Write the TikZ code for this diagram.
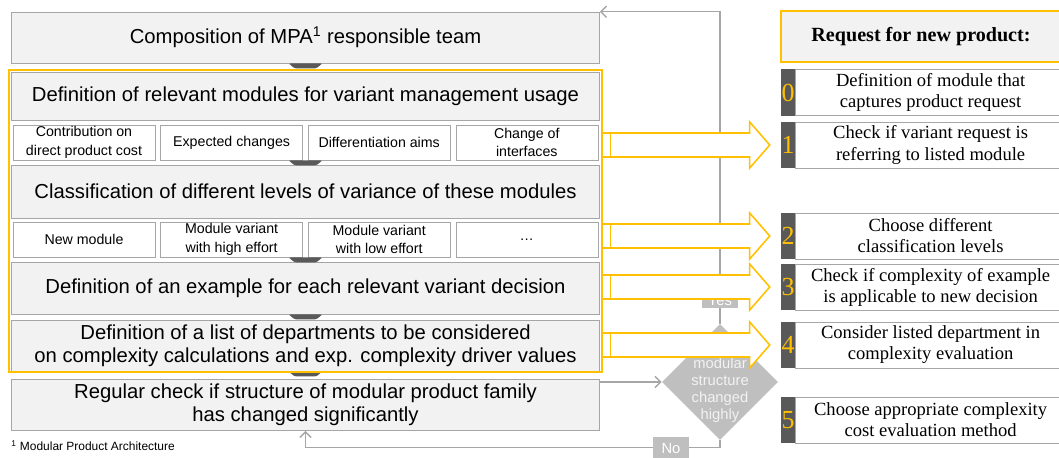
\documentclass[tikz,border=0pt]{standalone}
\usepackage{fontspec}
\setmainfont{Liberation Sans}
\newfontfamily\tnr{Liberation Serif}
\usepackage{tikz}
\usetikzlibrary{positioning,shapes.geometric,arrows.meta}
\definecolor{mpayellow}{HTML}{FFC000}
\definecolor{boxgray}{HTML}{F2F2F2}
\definecolor{linegray}{HTML}{A6A6A6}
\definecolor{loopgray}{HTML}{BFBFBF}
\definecolor{tabgray}{HTML}{595959}

\begin{document}
\begin{tikzpicture}[x=0.025cm, y=-0.025cm,
    big/.style = {draw=linegray, fill=boxgray, minimum width=14.7cm, align=center, font=\fontsize{14.4}{16.3}\selectfont},
    small/.style = {draw=linegray, fill=white, minimum width=3.55cm, minimum height=0.875cm, inner sep=1pt, align=center, font=\fontsize{10.1}{13.2}\selectfont},
    frame/.style = {draw=mpayellow, line width=1.6pt},
    chev/.style = {fill=tabgray, rounded corners=1pt},
    link/.style = {draw=linegray, line width=1pt, -{Straight Barb[length=4pt,width=8pt]}},
    dia/.style = {diamond, fill=loopgray, minimum width=2.9cm, minimum height=2.9cm, inner sep=0pt},
    lbl/.style = {fill=loopgray, text=white, inner sep=0pt, minimum width=0.9cm, font=\fontsize{10.5}{12}\selectfont},
    bigarrow/.style = {draw=mpayellow, fill=white, line width=1.1pt},
    hdr/.style = {draw=mpayellow, line width=1.6pt, fill=boxgray, minimum width=7cm, minimum height=1.275cm, font=\tnr\bfseries\fontsize{14.3}{16}\selectfont},
    tab/.style = {fill=tabgray, text=mpayellow, minimum width=0.35cm, minimum height=1.15cm, inner sep=0pt, font=\tnr\fontsize{18.5}{19}\selectfont},
    item/.style = {draw=linegray, fill=white, minimum width=6.75cm, minimum height=1.15cm, inner sep=1pt, align=center, font=\tnr\fontsize{13.2}{15}\selectfont}]
\useasboundingbox (0,0) rectangle (1059,458);

% left column
    \node[big, minimum height=1.275cm] (team) at (305.5,37.5) {Composition of MPA\textsuperscript{1} responsible team};
    \node[big, minimum height=1.2cm] (mod) at (305.5,96) {Definition of relevant modules for variant management usage};
    \node[small] (c1) at (84,142.5) {Contribution on\\direct product cost};
    \node[small, right=0.125cm of c1] (c2) {Expected changes};
    \node[small, right=0.125cm of c2] (c3) {Differentiation aims};
    \node[small, right=0.125cm of c3] (c4) {Change of\\interfaces};
    \node[big, minimum height=1.325cm] (cls) at (305.5,191.5) {Classification of different levels of variance of these modules};
    \node[small] (d1) at (84,239.5) {New module};
    \node[small, right=0.125cm of d1] (d2) {Module variant\\with high effort};
    \node[small, right=0.125cm of d2] (d3) {Module variant\\with low effort};
    \node[small, right=0.125cm of d3] (d4) {…};
    \node[big, minimum height=1.3cm] (ex) at (305.5,288) {Definition of an example for each relevant variant decision};
    \node[big, minimum height=1.275cm] (dep) at (305.5,345.5) {Definition of a list of departments to be considered\\on complexity calculations and exp. complexity driver values};
    \node[big, minimum height=1.25cm] (chk) at (305.5,405) {Regular check if structure of modular product family\\has changed significantly};
    \node[anchor=west, inner sep=0pt, font=\fontsize{8.5}{10}\selectfont] (fn) at (11,446) {\textsuperscript{1} Modular Product Architecture};

\foreach \p in {(team.south), (team.south |- c1.south), (team.south |- d1.south), (ex.south), (dep.south)}
    \fill[chev] \p ++(-17,0) -- ++(34,0) -- ++(-6,5) -- ++(-22,0) -- cycle;
\draw[frame] ([shift={(-2,-2)}]mod.north west) rectangle ([shift={(2,1)}]dep.south east);

% feedback loop
    \node[dia] (dia) at (720,382) {};
    \node[text=boxgray, align=center, inner sep=0pt, font=\fontsize{10.5}{12}\selectfont] (q) at (720,390) {modular\\structure\\changed\\highly};
\draw[link] (dia.west -| chk.east) -- (dia.west);
\draw[link] (dia.north) |- (team.north east);
\draw[link] (dia.south) -- ++(0,7) -| (chk.south);
    \node[lbl, minimum height=0.375cm] (yes) at (720,300.5) {Yes};
    \node[lbl, minimum height=0.55cm] (no) at (671,448) {No};

% right column
    \node[hdr] (hdr) at (921,36.5) {Request for new product:};
    \node[tab] (n0) at (788,92.5) {0};
    \node[item, right=0pt of n0] (s0) {Definition of module that\\captures product request};
    \node[tab] (n1) at (788,145) {1};
    \node[item, right=0pt of n1] (s1) {Check if variant request is\\referring to listed module};
    \node[tab] (n2) at (788,236) {2};
    \node[item, right=0pt of n2] (s2) {Choose different\\classification levels};
    \node[tab] (n3) at (788,287) {3};
    \node[item, right=0pt of n3] (s3) {Check if complexity of example\\is applicable to new decision};
    \node[tab] (n4) at (788,345) {4};
    \node[item, right=0pt of n4] (s4) {Consider listed department in\\complexity evaluation};
    \node[tab] (n5) at (788,420) {5};
    \node[item, right=0pt of n5] (s5) {Choose appropriate complexity\\cost evaluation method};

\foreach \i in {1,...,4} {
    \filldraw[bigarrow] (n\i.west) ++(-11,0) -- ++(-20,-23) -- ++(0,11) -- ++(-147,0) -- ++(0,24) -- ++(147,0) -- ++(0,11) -- cycle;
    \draw[bigarrow] (n\i.west) ++(-178,-12) rectangle ++(8,24);
}

\end{tikzpicture}
\end{document}
